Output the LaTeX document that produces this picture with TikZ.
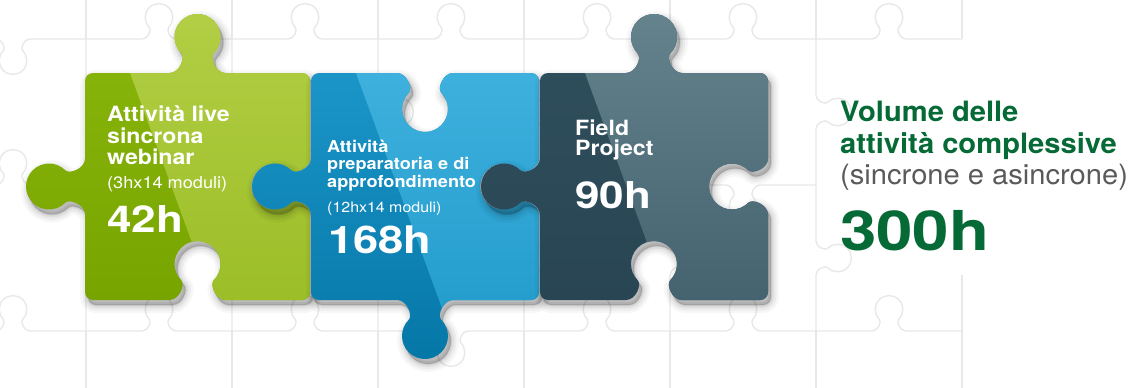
\documentclass[tikz,border=0pt]{standalone}
\usepackage{fontspec}
\setmainfont{TeX Gyre Heros}
\newfontfamily\fA{TeX Gyre Heros}[FakeStretch=1.1]
\newfontfamily\fN{TeX Gyre Heros}[FakeStretch=1.19]
\newfontfamily\fR{TeX Gyre Heros}[FakeStretch=1.04]
\definecolor{gD1}{HTML}{8AB70C}\definecolor{gD2}{HTML}{78A400}
\definecolor{gL1}{HTML}{B3CF46}\definecolor{gL2}{HTML}{96BA20}
\definecolor{bD1}{HTML}{1B95C8}\definecolor{bD2}{HTML}{0577A7}
\definecolor{bL1}{HTML}{46B6E2}\definecolor{bL2}{HTML}{1D98C9}
\definecolor{sD1}{HTML}{30505E}\definecolor{sD2}{HTML}{294553}
\definecolor{sL1}{HTML}{66848E}\definecolor{sL2}{HTML}{3D5B68}
\definecolor{vgreen}{HTML}{056A35}
\definecolor{vgray}{HTML}{5A5A5A}
\definecolor{gridc}{HTML}{E8E8E8}
% point helpers: {c}{e}{s}{k}{a}{b}
\newcommand\pT[6]{({#1+(#5)*(#4)},{#2-(#3)*(#6)*(#4)})}
\newcommand\pR[6]{({#2+(#3)*(#6)*(#4)},{#1+(#5)*(#4)})}
\newcommand\pB[6]{({#1-(#5)*(#4)},{#2+(#3)*(#6)*(#4)})}
\newcommand\pL[6]{({#2-(#3)*(#6)*(#4)},{#1-(#5)*(#4)})}
\newcommand\Prof[5]{%
 -- #1{#2}{#3}{#4}{#5}{-28}{0}
 .. controls #1{#2}{#3}{#4}{#5}{-18}{0} and #1{#2}{#3}{#4}{#5}{-12}{15.5} .. #1{#2}{#3}{#4}{#5}{-16.26}{19.74}
 .. controls #1{#2}{#3}{#4}{#5}{-25.24}{28.72} and #1{#2}{#3}{#4}{#5}{-25.24}{43.28} .. #1{#2}{#3}{#4}{#5}{-16.26}{52.26}
 .. controls #1{#2}{#3}{#4}{#5}{-7.28}{61.24} and #1{#2}{#3}{#4}{#5}{7.28}{61.24} .. #1{#2}{#3}{#4}{#5}{16.26}{52.26}
 .. controls #1{#2}{#3}{#4}{#5}{25.24}{43.28} and #1{#2}{#3}{#4}{#5}{25.24}{28.72} .. #1{#2}{#3}{#4}{#5}{16.26}{19.74}
 .. controls #1{#2}{#3}{#4}{#5}{12}{15.5} and #1{#2}{#3}{#4}{#5}{18}{0} .. #1{#2}{#3}{#4}{#5}{28}{0}}
\newcommand\Piece[8]{%
 ({#1+8},{#2})
 \Prof\pT{(#1+#3)/2}{#2}{#5}{1}
 -- ({#3-8},{#2}) .. controls ({#3-3.6},{#2}) and ({#3},{#2+3.6}) .. ({#3},{#2+8})
 \Prof\pR{(#2+#4)/2}{#3}{#6}{1}
 -- ({#3},{#4-8}) .. controls ({#3},{#4-3.6}) and ({#3-3.6},{#4}) .. ({#3-8},{#4})
 \Prof\pB{(#1+#3)/2}{#4}{#7}{1}
 -- ({#1+8},{#4}) .. controls ({#1+3.6},{#4}) and ({#1},{#4-3.6}) .. ({#1},{#4-8})
 \Prof\pL{(#2+#4)/2}{#1}{#8}{1}
 -- ({#1},{#2+8}) .. controls ({#1},{#2+3.6}) and ({#1+3.6},{#2}) .. ({#1+8},{#2}) -- cycle}
\edef\pathG{\Piece{85}{73}{310}{300}{1}{-1}{-1}{1}}
\edef\pathB{\Piece{311}{73}{539}{300}{-1}{-1}{1}{1}}
\edef\pathD{\Piece{540}{73}{768}{300}{1}{-1}{-1}{1}}
\begin{document}
\begin{tikzpicture}[x=1pt,y=-1pt,
  gridl/.style={draw=gridc,line width=1.4},
  lbl/.style={inner sep=0pt,anchor=base west,align=left,text=white},
  shadowlayer/.style={fill=black,draw=black,opacity=#1}]
\useasboundingbox (0,0) rectangle (1128,388);
\fill[white] (0,0) rectangle (1128,388);
\begin{scope}
\clip (0,0) rectangle (1128,388);
% background puzzle grid: horizontal edges
\foreach \y/\i/\s in {39/-1/-1,39/0/1,39/1/1,39/2/1,39/3/1,39/4/1,39/5/1,
   185/-1/1,185/0/-1,185/1/1,185/2/-1,185/3/1,185/4/-1,
   331/-1/1,331/0/1,331/1/1,331/2/-1,331/3/1,331/4/1,331/5/1}{
  \pgfmathsetmacro\cx{159+146*\i}
  \edef\tmp{({\cx-73},\y) \Prof\pT{\cx}{\y}{\s}{0.6} -- ({\cx+73},\y)}
  \draw[gridl] \tmp;
}
% vertical edges
\foreach \x/\cy/\s in {86/112/1,86/258/1,232/112/-1,232/258/1,378/112/1,378/258/-1,
   524/112/1,524/258/1,670/112/-1,670/258/1,816/112/1,816/258/1}{
  \edef\tmp{(\x,{\cy-73}) \Prof\pR{\cy}{\x}{\s}{0.6} -- (\x,{\cy+73})}
  \draw[gridl] \tmp;
}
\foreach \x in {86,232,378,524,670,816}{
  \draw[gridl] (\x,0) -- (\x,39);
  \draw[gridl] (\x,331) -- (\x,388);
}
\draw[gridl] (962,0) -- (962,39);
\draw[gridl] (962,275) -- (962,388);
\end{scope}
% ---- green piece ----
\foreach \w/\o in {16/0.03,11/0.045,6/0.06,2/0.08}{\filldraw[shadowlayer=\o,line width=\w,shift={(3,5)}] \pathG;}
\shade[top color=gD1,bottom color=gD2] \pathG;
\begin{scope}
\clip \pathG;
\shade[top color=gL1,bottom color=gL2] (104.4,3) -- (500,3) -- (500,370) -- (238.6,370) -- cycle;
\end{scope}
% ---- blue piece ----
\foreach \w/\o in {16/0.03,11/0.045,6/0.06,2/0.08}{\filldraw[shadowlayer=\o,line width=\w,shift={(3,5)}] \pathB;}
\shade[top color=bD1,bottom color=bD2] \pathB;
\begin{scope}
\clip \pathB;
\shade[top color=bL1,bottom color=bL2] (330.4,3) -- (700,3) -- (700,370) -- (464.6,370) -- cycle;
\end{scope}
% ---- slate piece ----
\foreach \w/\o in {16/0.03,11/0.045,6/0.06,2/0.08}{\filldraw[shadowlayer=\o,line width=\w,shift={(3,5)}] \pathD;}
\shade[top color=sD1,bottom color=sD2] \pathD;
\begin{scope}
\clip \pathD;
\shade[top color=sL1,bottom color=sL2] (559.4,3) -- (900,3) -- (900,370) -- (693.6,370) -- cycle;
\end{scope}
% ---- texts (base anchor = last line) ----
\node[lbl,font=\fA\bfseries\fontsize{21}{21.3}\selectfont] (g1) at (107,164.5) {Attività live\\sincrona\\webinar};
\node[lbl,font=\fA\fontsize{16.5}{18}\selectfont] (g2) at (107,188) {(3hx14 moduli)};
\node[lbl,font=\fN\bfseries\fontsize{37}{40}\selectfont] (g3) at (107,232) {42h};
\node[lbl,font=\fA\bfseries\fontsize{16.5}{17.7}\selectfont] (b1) at (327,187.5) {Attività\\preparatoria e di\\approfondimento};
\node[lbl,font=\fA\fontsize{14.5}{16}\selectfont] (b2) at (327,212) {(12hx14 moduli)};
\node[lbl,font=\fN\bfseries\fontsize{38}{40}\selectfont] (b3) at (328,253) {168h};
\node[lbl,font=\fA\bfseries\fontsize{21}{19.3}\selectfont] (d1) at (575,155) {Field\\Project};
\node[lbl,font=\fN\bfseries\fontsize{37}{40}\selectfont] (d2) at (575,208) {90h};
\node[lbl,text=vgreen,font=\fR\bfseries\fontsize{28}{31.5}\selectfont] (r1) at (840,153.3) {Volume delle\\attività complessive};
\node[lbl,text=vgray,font=\fR\fontsize{28}{30}\selectfont] (r2) at (840,184) {(sincrone e asincrone)};
\node[lbl,text=vgreen,font=\fN\bfseries\fontsize{55}{58}\selectfont] (r3) at (840,250) {300h};
\end{tikzpicture}
\end{document}
